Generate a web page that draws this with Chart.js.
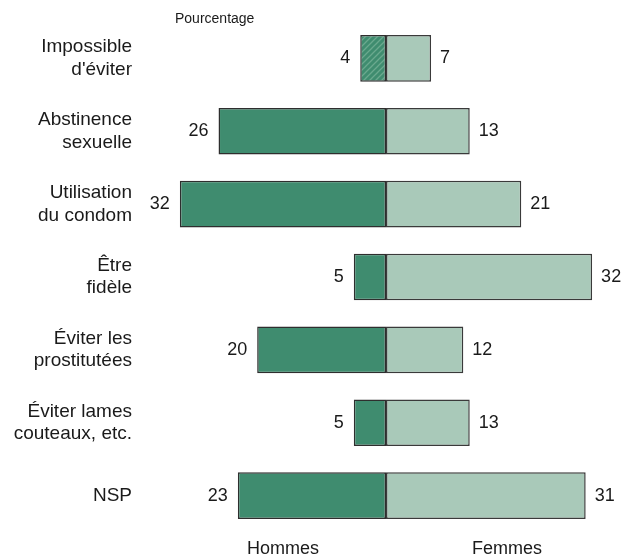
<!DOCTYPE html>
<html>
<head>
<meta charset="utf-8">
<script src="https://cdn.jsdelivr.net/npm/chart.js@4/dist/chart.umd.min.js"></script>
<style>
html,body{margin:0;padding:0;background:#fff;}
canvas{display:block;}
</style>
</head>
<body>
<canvas id="c" width="624" height="560"></canvas>
<script>
const categories = [
  ['Impossible', "d'éviter"],
  ['Abstinence', 'sexuelle'],
  ['Utilisation', 'du condom'],
  ['Être', 'fidèle'],
  ['Éviter les', 'prostitutées'],
  ['Éviter lames', 'couteaux, etc.'],
  ['NSP']
];
const hommes = [4, 26, 32, 5, 20, 5, 23];
const femmes = [7, 13, 21, 32, 12, 13, 31];
const seriesNames = ['Hommes', 'Femmes'];
const unitLabel = 'Pourcentage';

const DARK = '#3f8c6f';
const LIGHT = '#a9c9b9';
const FONT = '"Liberation Sans", Arial, Helvetica, sans-serif';

// hatch pattern for the first "Hommes" bar
function hatch() {
  const p = document.createElement('canvas');
  p.width = 6; p.height = 6;
  const g = p.getContext('2d');
  g.fillStyle = DARK; g.fillRect(0, 0, 6, 6);
  g.strokeStyle = '#6aa98e'; g.lineWidth = 1.3;
  g.beginPath();
  g.moveTo(0, 6); g.lineTo(6, 0);
  g.moveTo(-3, 3); g.lineTo(3, -3);
  g.moveTo(3, 9); g.lineTo(9, 3);
  g.stroke();
  return document.getElementById('c').getContext('2d').createPattern(p, 'repeat');
}
const hatchPat = hatch();

const labelPlugin = {
  id: 'labels',
  afterDatasetsDraw(chart) {
    const ctx = chart.ctx;
    const y = chart.scales.y, x = chart.scales.x;
    ctx.save();
    ctx.fillStyle = '#1a1a1a';
    ctx.textBaseline = 'middle';
    // category labels
    ctx.font = '19px ' + FONT;
    ctx.textAlign = 'right';
    categories.forEach((lines, i) => {
      const cy = y.getPixelForValue(i);
      const lh = 22.5;
      const start = cy - (lines.length - 1) * lh / 2;
      lines.forEach((t, k) => ctx.fillText(t, 132, start + k * lh));
    });
    // value labels
    ctx.font = '18px ' + FONT;
    hommes.forEach((v, i) => {
      const cy = y.getPixelForValue(i);
      ctx.textAlign = 'right';
      ctx.fillText(String(v), x.getPixelForValue(-v) - 10, cy);
    });
    femmes.forEach((v, i) => {
      const cy = y.getPixelForValue(i);
      ctx.textAlign = 'left';
      ctx.fillText(String(femmes[i]), x.getPixelForValue(v) + 9, cy);
    });
    // unit label
    ctx.font = '14px ' + FONT;
    ctx.textAlign = 'left';
    ctx.fillText(unitLabel, 175, 19);
    // series labels
    ctx.font = '18px ' + FONT;
    ctx.textAlign = 'center';
    ctx.fillText(seriesNames[0], 283, 549);
    ctx.fillText(seriesNames[1], 507, 549);
    ctx.restore();
  }
};

new Chart(document.getElementById('c'), {
  type: 'bar',
  data: {
    labels: categories.map(l => l.join(' ')),
    datasets: [
      {
        label: seriesNames[0],
        data: hommes.map(v => -v),
        backgroundColor: hommes.map((v, i) => i === 0 ? hatchPat : DARK),
        borderColor: '#2e2e2e',
        borderWidth: 1.5,
        borderSkipped: false,
        barPercentage: 0.64,
        categoryPercentage: 1
      },
      {
        label: seriesNames[1],
        data: femmes,
        backgroundColor: LIGHT,
        borderColor: '#3a3a3a',
        borderWidth: 1.5,
        borderSkipped: false,
        barPercentage: 0.64,
        categoryPercentage: 1
      }
    ]
  },
  options: {
    indexAxis: 'y',
    responsive: false,
    devicePixelRatio: 1,
    animation: false,
    layout: { padding: { left: 167, right: 19, top: 22, bottom: 28 } },
    scales: {
      x: { stacked: true, min: -34, max: 34, display: false },
      y: { stacked: true, display: false }
    },
    plugins: { legend: { display: false }, tooltip: { enabled: false } }
  },
  plugins: [labelPlugin]
});
</script>
</body>
</html>
